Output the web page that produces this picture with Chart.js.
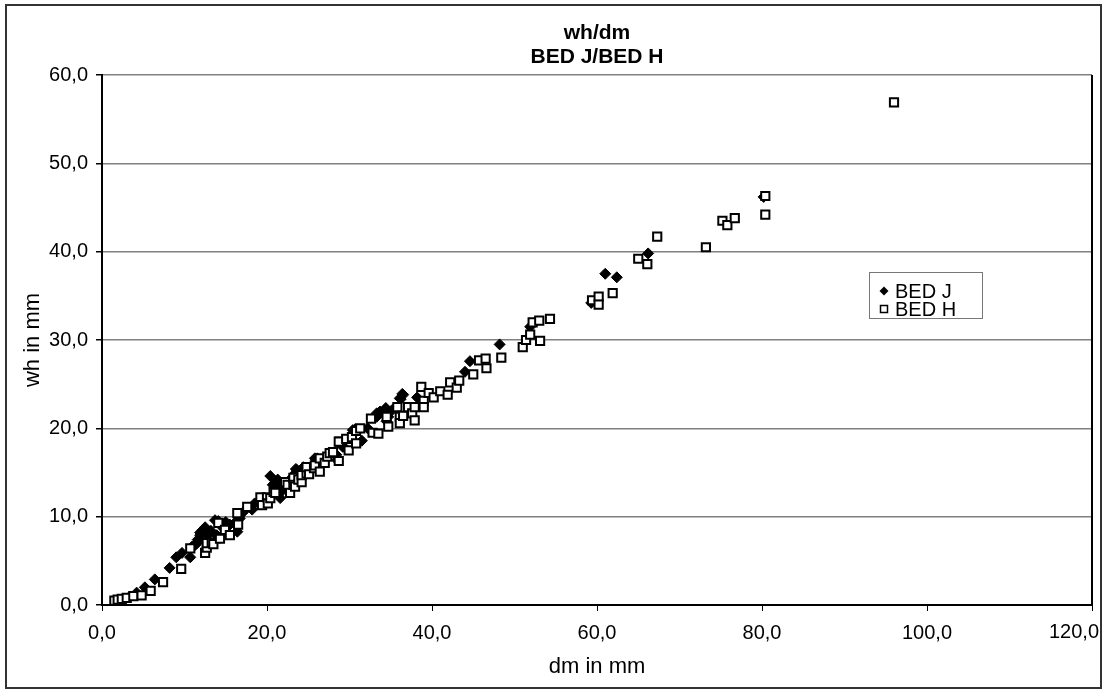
<!DOCTYPE html>
<html>
<head>
<meta charset="utf-8">
<title>wh/dm BED J/BED H</title>
<script src="https://cdn.jsdelivr.net/npm/chart.js@4.4.1/dist/chart.umd.min.js"></script>
<style>
  html, body { margin: 0; padding: 0; background: #fff; }
  #wrap { width: 1108px; height: 691px; position: relative; }
</style>
</head>
<body>
<div id="wrap"><canvas id="chart"></canvas></div>
<script>
// Titles and labels
const titleLines = ['wh/dm', 'BED J/BED H'];
const xTitle = 'dm in mm';
const yTitle = 'wh in mm';
const seriesNames = ['BED J', 'BED H'];

// BED J (filled diamonds)
const bedJ_dm = [3.3, 4.2, 5.2, 6.4, 8.2, 9.0, 9.7, 10.7, 10.9, 11.3, 11.6, 11.5, 11.9, 12.2, 12.8, 11.9,
  13.7, 14.1, 13.9, 14.3, 14.7, 15.5, 16.1, 16.4, 16.7, 17.1, 18.2, 18.5, 19.8, 21.6, 21.6, 21.9,
  21.8, 20.7, 21.3, 20.4, 21.2, 22.8, 23.4, 23.6, 23.5, 24.4, 24.6, 25.8, 26.1, 28.4, 28.5, 29.2,
  29.2, 30.4, 30.7, 31.5, 32.2, 33.3, 33.3, 33.7, 34.3, 34.5, 34.7, 35.2, 34.4, 36.1, 36.4, 36.2,
  36.5, 38.2, 44.0, 44.6, 48.2, 51.9, 59.3, 61.0, 62.4, 66.2, 80.2, 12.5, 13.2, 15.0];
const bedJ_wh = [0.9, 1.4, 2.0, 2.9, 4.2, 5.4, 5.9, 5.4, 6.6, 6.8, 7.4, 7.0, 8.2, 8.5, 7.9, 7.9,
  9.6, 9.5, 7.9, 7.6, 8.7, 9.1, 9.3, 8.3, 9.8, 10.5, 10.8, 11.5, 11.7, 12.1, 12.7, 13.2,
  13.4, 13.6, 14.2, 14.6, 13.8, 14.2, 14.9, 15.3, 15.4, 15.6, 15.5, 16.6, 16.6, 17.0, 16.4, 18.0,
  17.9, 19.8, 19.9, 18.6, 20.0, 21.7, 21.3, 21.9, 22.1, 20.8, 21.3, 22.1, 22.3, 23.4, 23.9, 23.3,
  23.8, 23.5, 26.4, 27.6, 29.5, 31.5, 34.2, 37.5, 37.1, 39.8, 46.2, 8.8, 8.4, 9.4];

// BED H (open squares)
const bedH_dm = [1.5, 1.9, 2.4, 3.0, 3.8, 4.8, 5.9, 7.4, 9.6, 10.7, 12.5, 12.7, 12.7, 13.3, 13.5, 14.1,
  14.3, 14.9, 15.5, 16.4, 16.5, 17.6, 19.2, 19.4, 20.0, 20.1, 20.4, 20.8, 21.0, 22.2, 22.5, 22.8,
  23.2, 23.2, 23.4, 23.8, 24.2, 24.2, 24.8, 24.8, 25.1, 25.7, 25.8, 26.4, 26.4, 27.0, 27.3, 27.6,
  28.0, 28.7, 28.8, 28.7, 29.6, 29.9, 30.3, 30.8, 30.8, 31.3, 32.6, 32.8, 33.5, 34.5, 34.7, 35.8,
  36.1, 36.1, 36.5, 37.1, 37.6, 37.9, 37.9, 38.7, 39.0, 39.0, 39.6, 40.2, 41.0, 41.9, 42.2, 43.0,
  43.3, 45.0, 45.7, 46.5, 46.6, 48.4, 51.0, 51.4, 51.9, 52.2, 53.0, 53.1, 54.3, 59.4, 60.2, 60.2,
  61.9, 65.0, 66.1, 67.3, 73.2, 75.2, 75.8, 76.7, 80.4, 80.4, 96.0];
const bedH_wh = [0.5, 0.6, 0.7, 0.8, 1.0, 1.1, 1.6, 2.6, 4.1, 6.4, 5.9, 6.5, 7.0, 7.1, 6.9, 9.3,
  7.5, 8.5, 7.9, 10.4, 9.1, 11.1, 12.2, 11.3, 12.2, 11.5, 12.1, 12.8, 12.7, 13.9, 13.6, 12.7,
  14.4, 13.6, 13.4, 14.2, 13.9, 14.7, 14.9, 15.6, 14.8, 15.5, 15.8, 15.1, 16.6, 16.1, 16.8, 17.2,
  17.3, 16.3, 18.5, 18.5, 18.8, 17.5, 19.0, 18.3, 19.7, 20.0, 21.1, 19.5, 19.4, 21.3, 20.2, 22.4,
  21.3, 20.6, 21.4, 22.4, 21.7, 20.9, 22.4, 24.7, 23.1, 22.4, 24.0, 23.5, 24.2, 23.8, 25.2, 24.6,
  25.4, 26.1, 27.7, 27.9, 26.8, 28.0, 29.2, 30.0, 30.6, 32.0, 32.2, 29.9, 32.4, 34.5, 34.9, 34.0,
  35.3, 39.2, 38.6, 41.7, 40.5, 43.5, 43.0, 43.8, 46.3, 44.2, 56.9];

// Axis ticks
const xMin = 0, xMax = 120, xStep = 20;
const yMin = 0, yMax = 60, yStep = 10;

const FONT = '"Liberation Sans", Arial, sans-serif';
const fmt = v => Number(v).toFixed(1).replace('.', ',');
const toPoints = (xs, ys) => xs.map((x, i) => ({ x: x, y: ys[i] }));

// frame, titles, legend, last x label (pulled inside like the original)
const decor = {
  id: 'decor',
  beforeDraw(chart) {
    const c = chart.ctx;
    c.save();
    c.fillStyle = '#fff';
    c.fillRect(0, 0, chart.width, chart.height);
    c.restore();
  },
  afterDraw(chart) {
    const c = chart.ctx;
    const a = chart.chartArea;
    const xs = chart.scales.x;
    c.save();
    // outer frame
    c.strokeStyle = '#333';
    c.lineWidth = 2;
    c.strokeRect(6, 5, 1095, 683);
    // right edge of plot
    c.strokeStyle = '#000';
    c.lineWidth = 2;
    c.beginPath();
    c.moveTo(a.right, a.top);
    c.lineTo(a.right, a.bottom);
    c.stroke();
    // last x tick label
    c.fillStyle = '#000';
    c.font = '20px ' + FONT;
    c.textAlign = 'right';
    c.textBaseline = 'top';
    c.fillText(fmt(xMax), Math.min(xs.getPixelForValue(xMax) + 24, 1099), a.bottom + 17);
    // title
    c.font = 'bold 21px ' + FONT;
    c.textAlign = 'center';
    c.textBaseline = 'middle';
    const cx = (a.left + a.right) / 2;
    c.fillText(titleLines[0], cx, 33);
    c.fillText(titleLines[1], cx, 57);
    // legend
    const lx = 869, ly = 272, lw = 113, lh = 46;
    c.strokeStyle = '#777';
    c.lineWidth = 1;
    c.strokeRect(lx + 0.5, ly + 0.5, lw, lh);
    c.font = '20px ' + FONT;
    c.textAlign = 'left';
    c.fillStyle = '#000';
    // diamond
    let px = 884, py = 291;
    c.beginPath();
    c.moveTo(px, py - 4.5); c.lineTo(px + 4.5, py); c.lineTo(px, py + 4.5); c.lineTo(px - 4.5, py); c.closePath();
    c.fill();
    c.fillText(seriesNames[0], 895, py + 1);
    // square
    py = 309;
    c.fillStyle = '#fff';
    c.fillRect(px - 3.5, py - 3.5, 7, 7);
    c.strokeStyle = '#000';
    c.lineWidth = 1.5;
    c.strokeRect(px - 3.5, py - 3.5, 7, 7);
    c.fillStyle = '#000';
    c.fillText(seriesNames[1], 895, py + 1);
    c.restore();
  }
};

const ctx = document.getElementById('chart');
const chart = new Chart(ctx, {
  type: 'scatter',
  data: {
    datasets: [
      {
        label: seriesNames[0],
        data: toPoints(bedJ_dm, bedJ_wh),
        pointStyle: 'rectRot',
        pointRadius: 5.5,
        backgroundColor: '#000',
        borderColor: '#000',
        borderWidth: 1,
        order: 2
      },
      {
        label: seriesNames[1],
        data: toPoints(bedH_dm, bedH_wh),
        pointStyle: 'rect',
        pointRadius: 5.8,
        backgroundColor: '#fff',
        borderColor: '#000',
        borderWidth: 2,
        order: 1
      }
    ]
  },
  options: {
    responsive: true,
    maintainAspectRatio: false,
    animation: false,
    layout: { padding: { left: 6, right: 16, top: 75, bottom: 5 } },
    plugins: {
      legend: { display: false },
      title: { display: false },
      tooltip: { enabled: false }
    },
    scales: {
      x: {
        type: 'linear',
        min: xMin, max: xMax,
        afterFit: s => { s.height = 81; s.paddingRight = 0; s.paddingLeft = 0; },
        ticks: {
          stepSize: xStep,
          color: '#000',
          font: { family: FONT, size: 20 },
          padding: 10,
          maxRotation: 0,
          callback: v => (v === xMax ? '' : fmt(v))
        },
        grid: { drawOnChartArea: false, drawTicks: true, tickLength: 6, tickColor: '#000' },
        border: { color: '#000', width: 2 },
        title: {
          display: true, text: xTitle, color: '#000',
          font: { family: FONT, size: 22 },
          padding: { top: 4, bottom: 6 }
        }
      },
      y: {
        type: 'linear',
        min: yMin, max: yMax,
        afterFit: s => { s.width = 96; s.paddingTop = 0; s.paddingBottom = 0; },
        ticks: {
          stepSize: yStep,
          color: '#000',
          font: { family: FONT, size: 20 },
          padding: 8,
          callback: v => fmt(v)
        },
        grid: {
          color: c => c.tick && c.tick.value === 0 ? 'rgba(0,0,0,0)' : '#808080',
          lineWidth: 1.5,
          drawTicks: true, tickLength: 6, tickColor: '#000'
        },
        border: { color: '#000', width: 2 },
        title: {
          display: true, text: yTitle, color: '#000',
          font: { family: FONT, size: 22 },
          padding: { top: 14, bottom: 4 }
        }
      }
    }
  },
  plugins: [decor]
});
</script>
</body>
</html>
